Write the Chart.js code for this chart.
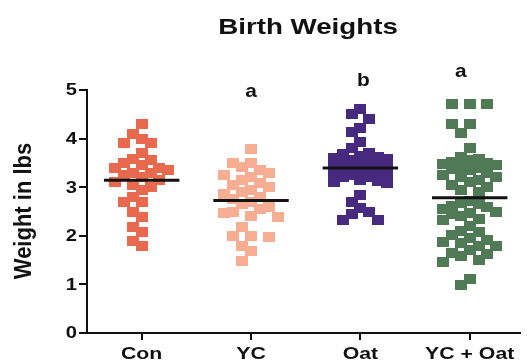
<!DOCTYPE html>
<html>
<head>
<meta charset="utf-8">
<script src="https://cdn.jsdelivr.net/npm/chart.js@4/dist/chart.umd.min.js"></script>
<style>
  html, body { margin: 0; padding: 0; background: #ffffff; }
  #wrap { width: 527px; height: 361px; }
</style>
</head>
<body>
<div id="wrap"><canvas id="c" width="527" height="361"></canvas></div>
<script>
// Groups and birth weights (lbs)
const categories = ['Con', 'YC', 'Oat', 'YC + Oat'];
const sigLetters = ['', 'a', 'b', 'a'];
const yTicks = [0, 1, 2, 3, 4, 5];

const conWeights = [
  4.30, 4.09, 4.00, 3.90, 3.90, 3.70, 3.59,
  3.55, 3.50, 3.45, 3.40, 3.40, 3.35, 3.30, 3.30, 3.25, 3.20, 3.15, 3.10, 3.05, 3.00, 2.95,
  2.80, 2.70, 2.70, 2.49, 2.39, 2.19, 2.08, 1.89, 1.79
];
const ycWeights = [
  3.79, 3.49, 3.49, 3.42, 3.35, 3.29, 3.25, 3.20, 3.15, 3.09, 3.05, 3.01,
  2.95, 2.90, 2.85, 2.80, 2.75, 2.70, 2.65, 2.60, 2.55, 2.50, 2.46, 2.40,
  2.38, 2.19, 2.00, 2.00, 1.98, 1.79, 1.69, 1.49
];
const oatWeights = [
  4.61, 4.51, 4.40, 4.21, 4.14,
  3.94, 3.80, 3.70, 3.68, 3.65, 3.62, 3.60, 3.58, 3.55, 3.55, 3.52, 3.50, 3.48, 3.48,
  3.45, 3.42, 3.40, 3.38, 3.35, 3.32, 3.30, 3.28, 3.25, 3.22, 3.20, 3.15, 3.12, 3.10, 3.08,
  2.84, 2.70, 2.57, 2.50, 2.45, 2.33, 2.33
];
const ycOatWeights = [
  4.71, 4.71, 4.71, 4.31, 4.31, 4.11, 3.80,
  3.63, 3.58, 3.55, 3.52, 3.50, 3.48, 3.45, 3.42, 3.40, 3.38, 3.35, 3.30, 3.25, 3.22, 3.20,
  3.15, 3.10, 3.05, 3.00, 2.95, 2.90,
  2.72, 2.68, 2.65, 2.62, 2.60, 2.55, 2.50, 2.47, 2.45, 2.40, 2.35, 2.33,
  2.20, 2.10, 2.08, 2.02, 1.95, 1.91, 1.88, 1.85, 1.80, 1.78, 1.70, 1.64, 1.62, 1.58, 1.50, 1.47,
  1.12, 0.99
];
const groupWeights = [conWeights, ycWeights, oatWeights, ycOatWeights];
const groupColors = ['#E9694E', '#F6AD92', '#47297F', '#507A56'];

// ---- layout constants ----
const X_MIN = -0.5, X_MAX = 3.46;
const AREA_W = 440, AREA_H = 243;
const X_PX = AREA_W / (X_MAX - X_MIN);
const Y_PX = AREA_H / 5;
const MARK_W = 12, MARK_H = 10;
const STEP_PX = 9, MAX_COL = 3;
const NEAR_Y = 12, TIE_Y = 1.2;
const MEAN_HALF = 0.345;
const FONT = '"Liberation Sans", Arial, Helvetica, sans-serif';

// Horizontal gap two markers need, given how far apart their values sit
function neededGap(dy) {
  if (dy < TIE_Y) return 2 * STEP_PX;
  if (dy < NEAR_Y) return STEP_PX;
  return 0;
}

// Column-scatter layout: points with close values are pushed sideways
// into a bounded set of columns; when all are taken, the least crowded wins.
function swarmOffsets(values) {
  const order = values.map((v, i) => i).sort((a, b) => values[b] - values[a]);
  const cols = [0];
  for (let k = 1; k <= MAX_COL; k++) { cols.push(-k, k); }
  const placed = [];
  const offs = new Array(values.length);
  for (const i of order) {
    const y = values[i] * Y_PX;
    let best = 0, bestScore = Infinity;
    for (const c of cols) {
      const x = c * STEP_PX;
      let score = 0;
      for (const p of placed) {
        const dy = Math.abs(p.y - y), dx = Math.abs(p.x - x);
        const gap = neededGap(dy);
        if (dx < gap - 0.01) score += (NEAR_Y - dy) * (gap - dx);
      }
      if (score === 0) { best = c; bestScore = 0; break; }
      if (score < bestScore) { bestScore = score; best = c; }
    }
    placed.push({ x: best * STEP_PX, y });
    offs[i] = best * STEP_PX / X_PX;
  }
  return offs;
}

function squareMarker(color) {
  const c = document.createElement('canvas');
  c.width = MARK_W; c.height = MARK_H;
  const g = c.getContext('2d');
  g.fillStyle = color;
  g.fillRect(0, 0, MARK_W, MARK_H);
  return c;
}

const mean = arr => arr.reduce((s, v) => s + v, 0) / arr.length;

const datasets = [];
groupWeights.forEach((vals, gi) => {
  const m = mean(vals);
  datasets.push({
    type: 'line',
    data: [{ x: gi - MEAN_HALF, y: m }, { x: gi + MEAN_HALF, y: m }],
    borderColor: '#111111',
    borderWidth: 3,
    pointRadius: 0,
    order: 0
  });
});
groupWeights.forEach((vals, gi) => {
  const offs = swarmOffsets(vals);
  datasets.push({
    type: 'scatter',
    data: vals.map((v, i) => ({ x: gi + offs[i], y: v })),
    pointStyle: squareMarker(groupColors[gi]),
    pointRadius: 6,
    order: 1
  });
});

function stretchedText(ctx, text, x, y, font, align, sx) {
  ctx.save();
  ctx.translate(x, y);
  ctx.scale(sx, 1);
  ctx.font = font;
  ctx.textAlign = align;
  ctx.fillText(text, 0, 0);
  ctx.restore();
}

const textPlugin = {
  id: 'texts',
  afterDraw(chart) {
    const ctx = chart.ctx;
    const xs = chart.scales.x, ys = chart.scales.y;
    ctx.save();
    ctx.fillStyle = '#111111';
    // title
    ctx.textBaseline = 'alphabetic';
    stretchedText(ctx, 'Birth Weights', 308, 34, 'bold 22px ' + FONT, 'center', 1.26);
    // significance letters
    const letterPos = [null, { dx: 0, y: 97 }, { dx: 3, y: 86 }, { dx: -9, y: 77 }];
    sigLetters.forEach((t, i) => {
      if (!t) return;
      stretchedText(ctx, t, xs.getPixelForValue(i) + letterPos[i].dx, letterPos[i].y, 'bold 19px ' + FONT, 'center', 1.1);
    });
    // y tick labels
    ctx.textBaseline = 'middle';
    yTicks.forEach(v => {
      stretchedText(ctx, String(v), 77, ys.getPixelForValue(v) + 1, 'bold 16px ' + FONT, 'right', 1.26);
    });
    // x category labels
    ctx.textBaseline = 'alphabetic';
    categories.forEach((c, i) => {
      stretchedText(ctx, c, xs.getPixelForValue(i), 359, 'bold 17px ' + FONT, 'center', 1.25);
    });
    // y axis title
    ctx.save();
    ctx.translate(24, 211);
    ctx.scale(1.12, 1);
    ctx.rotate(-Math.PI / 2);
    ctx.font = 'bold 22px ' + FONT;
    ctx.textAlign = 'center';
    ctx.textBaseline = 'middle';
    ctx.fillText('Weight in lbs', 0, 0);
    ctx.restore();
    ctx.restore();
  }
};

new Chart(document.getElementById('c'), {
  data: { datasets },
  options: {
    responsive: false,
    animation: false,
    events: [],
    layout: { padding: { top: 90, right: 0, left: 0, bottom: 0 } },
    plugins: { legend: { display: false }, tooltip: { enabled: false }, title: { display: false } },
    scales: {
      x: {
        type: 'linear',
        min: X_MIN, max: X_MAX,
        afterBuildTicks: s => { s.ticks = categories.map((c, i) => ({ value: i })); },
        afterFit: s => { s.height = 28; },
        ticks: { display: false },
        grid: { drawOnChartArea: false, drawTicks: true, tickLength: 7, color: '#111111', lineWidth: 2 },
        border: { display: true, color: '#111111', width: 2 }
      },
      y: {
        type: 'linear',
        min: 0, max: 5,
        afterBuildTicks: s => { s.ticks = yTicks.map(v => ({ value: v })); },
        afterFit: s => { s.width = 87; },
        ticks: { display: false },
        grid: { drawOnChartArea: false, drawTicks: true, tickLength: 8, color: '#111111', lineWidth: 2 },
        border: { display: true, color: '#111111', width: 2 }
      }
    }
  },
  plugins: [textPlugin]
});
</script>
</body>
</html>
